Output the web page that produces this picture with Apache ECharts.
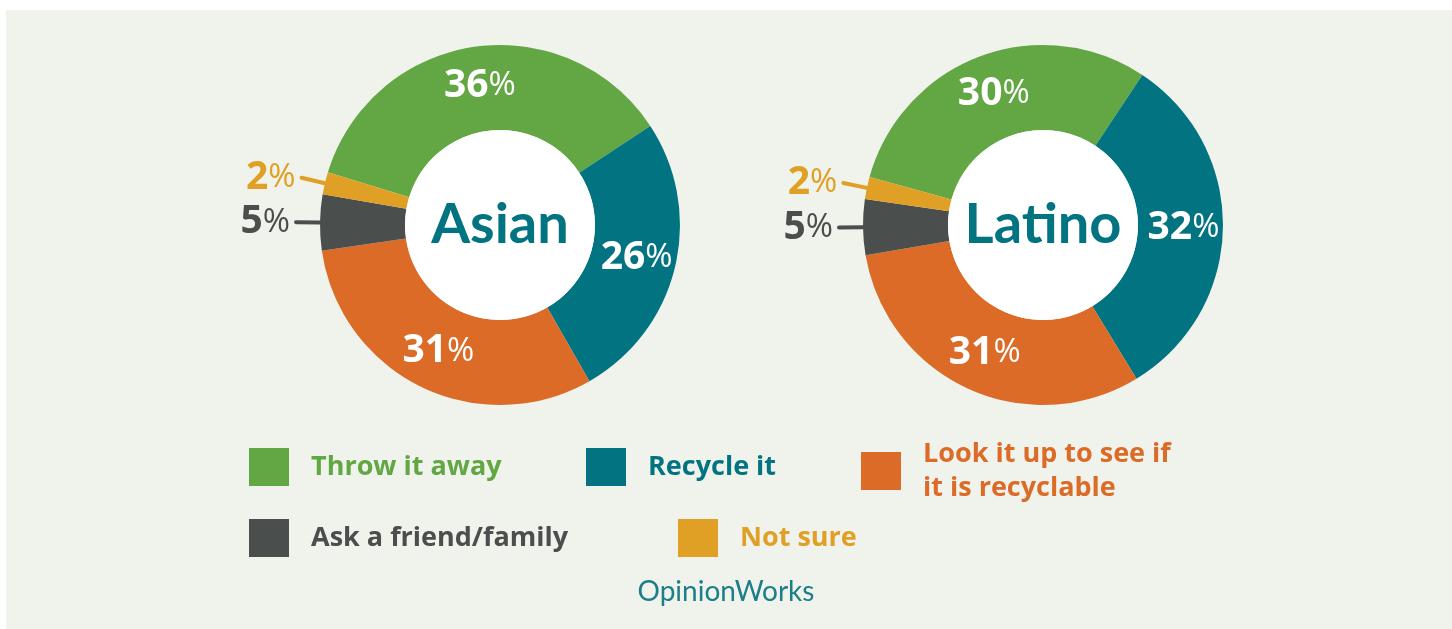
<!DOCTYPE html>
<html>
<head>
<meta charset="utf-8">
<script src="https://cdn.jsdelivr.net/npm/echarts@6/dist/echarts.min.js"></script>
<style>
  html, body { margin: 0; padding: 0; background: #fff; }
  #chart { width: 1452px; height: 629px; }
</style>
</head>
<body>
<div id="chart"></div>
<script>
const categories = ['Throw it away', 'Recycle it', 'Look it up to see if\nit is recyclable', 'Ask a friend/family', 'Not sure']
const colors = ['#62a744', '#017381', '#db6b27', '#4a4e4d', '#e0a026']
const asian = [36, 26, 31, 5, 2]
const latino = [30, 32, 31, 5, 2]

const NUM_FONT = '"Open Sans"'
const TITLE_FONT = 'Lato'

const chart = echarts.init(document.getElementById('chart'))

const pctRich = color => ({
  n: { fontFamily: NUM_FONT, fontWeight: 'bold', fontSize: 39, color },
  p: { fontFamily: NUM_FONT, fontWeight: 'normal', fontSize: 33, color },
})

const buildData = values => values.map((v, i) => {
  const item = { name: categories[i], value: v, itemStyle: { color: colors[i] } }
  if (v < 10) {
    // small slices get an outside label with a short leader line
    item.label = {
      position: 'outside',
      formatter: p => `{n|${p.value}}{p|%}`,
      distanceToLabelLine: 6,
      rich: pctRich(colors[i]),
    }
    item.labelLine = {
      show: true,
      length: 24,
      length2: 0,
      lineStyle: { color: colors[i], width: 4, cap: 'round' },
    }
  }
  return item
})

const donut = (name, values, center, startAngle) => ({
  name,
  type: 'pie',
  radius: [95, 180],
  center,
  startAngle,
  avoidLabelOverlap: false,
  silent: true,
  label: {
    position: 'inside',
    formatter: p => `{n|${p.value}}{p|%}`,
    rich: pctRich('#fff'),
  },
  labelLine: { show: false },
  data: buildData(values),
})

const hole = (name, center) => ({
  type: 'pie',
  radius: [0, 95],
  center,
  silent: true,
  label: {
    position: 'center',
    formatter: name,
    fontFamily: TITLE_FONT,
    fontWeight: 'bold',
    fontSize: 56,
    color: '#017381',
  },
  labelLine: { show: false },
  data: [{ name: name + '_hole', value: 1, itemStyle: { color: '#fff' } }],
})

const legendBase = {
  orient: 'horizontal',
  icon: 'rect',
  itemWidth: 40,
  itemHeight: 38,
  padding: 0,
  selectedMode: false,
  textStyle: {
    fontFamily: NUM_FONT,
    fontWeight: 'bold',
    fontSize: 27,
    lineHeight: 34,
    padding: [0, 0, 0, 17],
  },
}

const legendItem = i => ({ name: categories[i], textStyle: { color: colors[i] } })

const option = {
  backgroundColor: '#fff',
  animation: false,
  graphic: [
    { type: 'rect', z: -10, shape: { x: 6, y: 10, width: 1446, height: 619 }, style: { fill: '#f0f3ec' } },
  ],
  title: {
    text: 'OpinionWorks',
    left: 'center',
    top: 573,
    textStyle: { fontFamily: TITLE_FONT, fontWeight: 'normal', fontSize: 28, color: '#1b7e88' },
  },
  legend: [
    { ...legendBase, left: 249, top: 448, data: [legendItem(0)] },
    { ...legendBase, left: 586, top: 448, data: [legendItem(1)] },
    // two-line label: box top sits above the icon
    { ...legendBase, left: 861, top: 437, data: [legendItem(2)] },
    { ...legendBase, left: 249, top: 519, data: [legendItem(3)] },
    { ...legendBase, left: 678, top: 519, data: [legendItem(4)] },
  ],
  series: [
    donut('Asian', asian, [500, 225], 163),
    hole('Asian', [500, 225]),
    donut('Latino', latino, [1043, 225], 164.5),
    hole('Latino', [1043, 225]),
  ],
}

chart.setOption(option)
</script>
</body>
</html>
